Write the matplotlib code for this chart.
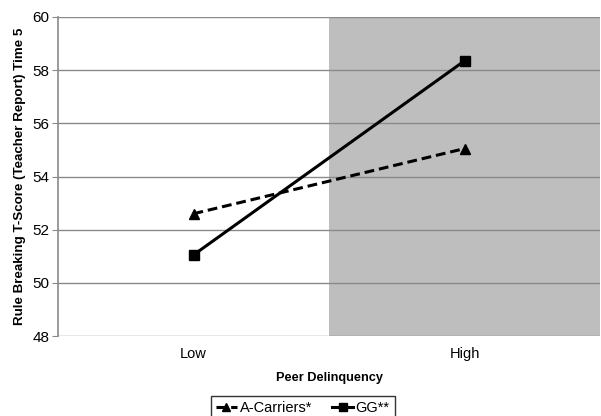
import matplotlib
matplotlib.use("Agg")
import matplotlib.pyplot as plt

plt.rcParams['font.family'] = ['Liberation Sans', 'DejaVu Sans']

# Data
categories = ["Low", "High"]
a_carriers = [52.6, 55.05]
gg = [51.05, 58.35]
yticks = [48, 50, 52, 54, 56, 58, 60]

fig = plt.figure(figsize=(6.01, 4.16), dpi=100)
ax = fig.add_axes([58 / 601, 1 - 336 / 416, 542 / 601, 319 / 416])

x = list(range(len(categories)))

# shaded "high" region
ax.axvspan(0.5, 1.5, color="#bebebe", zorder=0, lw=0)

for t in yticks:
    ax.axhline(t, color="#8a8a8a", lw=1.0, zorder=1)

ax.plot(x, a_carriers, color="black", lw=2.2, ls=(0, (3.2, 1.6)), marker="^",
        markersize=7, label="A-Carriers*", zorder=3)
ax.plot(x, gg, color="black", lw=2.2, marker="s", markersize=7,
        label="GG**", zorder=3)

ax.set_xlim(-0.5, 1.5)
ax.set_ylim(48, 60)
ax.set_yticks(yticks)
ax.set_xticks(x)
ax.set_xticklabels(categories)
ax.tick_params(axis="y", labelsize=11, length=4, color="#8a8a8a", pad=2)
ax.tick_params(axis="x", labelsize=10.5, length=0, pad=8)

for s in ["top", "right", "bottom"]:
    ax.spines[s].set_visible(False)
ax.spines["left"].set_color("#8a8a8a")
ax.spines["left"].set_linewidth(1.2)

ax.set_ylabel("Rule Breaking T-Score (Teacher Report) Time 5", fontsize=9.6,
              fontweight="bold", labelpad=5)
ax.set_xlabel("Peer Delinquency", fontsize=9.2, fontweight="bold", labelpad=8)

leg = fig.legend(loc="center", bbox_to_anchor=(303 / 601, 1 - 408 / 416), ncol=2,
                 fontsize=10.5, frameon=True, fancybox=False, edgecolor="black",
                 handlelength=1.4, handletextpad=0.2, columnspacing=1.4,
                 borderpad=0.35, markerscale=0.8)
leg.get_frame().set_linewidth(1.0)

fig.savefig("out.png", dpi=100)
